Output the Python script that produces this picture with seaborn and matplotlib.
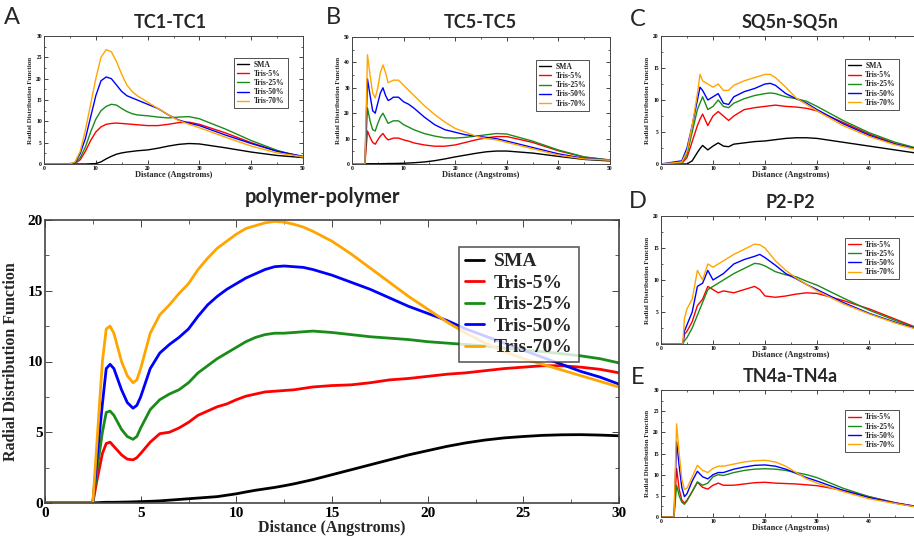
import numpy as np
import pandas as pd
import matplotlib
matplotlib.use('Agg')
import matplotlib.pyplot as plt
from matplotlib.ticker import MultipleLocator
import seaborn as sns

# ---- series names / colours
labels5 = ['SMA', 'Tris-5%', 'Tris-25%', 'Tris-50%', 'Tris-70%']
colors5 = ['black', '#ff0000', '#1a8c1a', '#0000ff', '#ffa500']

# ---- main panel: polymer-polymer
x_main = [0, 2.5, 2.7, 3.0, 3.2, 3.4, 3.6, 4.0, 4.3, 4.6, 4.8, 5.0, 5.5, 6.0, 6.5, 7.0, 7.5, 8.0, 8.5,
          9.0, 9.5, 10.0, 10.5, 11.0, 11.5, 12.0, 12.5, 13.0, 13.5, 14.0, 15, 16, 17, 18, 19, 20,
          21, 22, 23, 24, 25, 26, 27, 28, 29, 30]
sma_main = [0, 0, 0.02, 0.04, 0.05, 0.05, 0.05, 0.06, 0.07, 0.08, 0.09, 0.1, 0.12, 0.15, 0.2, 0.25, 0.3, 0.35, 0.4,
            0.45, 0.55, 0.65, 0.78, 0.9, 1.0, 1.1, 1.22, 1.35, 1.5, 1.65, 2.0, 2.35, 2.7, 3.05, 3.4, 3.7,
            4.0, 4.25, 4.45, 4.6, 4.7, 4.78, 4.82, 4.83, 4.8, 4.75]
t5_main = [0, 0, 1.5, 3.5, 4.2, 4.3, 4.0, 3.4, 3.1, 3.05, 3.2, 3.5, 4.3, 4.9, 5.0, 5.3, 5.7, 6.2, 6.5,
           6.8, 7.0, 7.3, 7.55, 7.7, 7.85, 7.9, 7.95, 8.0, 8.1, 8.2, 8.3, 8.35, 8.5, 8.7, 8.8, 8.95,
           9.1, 9.2, 9.35, 9.5, 9.6, 9.7, 9.7, 9.6, 9.45, 9.2]
t25_main = [0, 0, 2.2, 5.0, 6.4, 6.5, 6.2, 5.2, 4.7, 4.5, 4.7, 5.3, 6.6, 7.3, 7.7, 8.0, 8.5, 9.2, 9.7,
            10.2, 10.6, 11.0, 11.4, 11.7, 11.9, 12.0, 12.0, 12.05, 12.1, 12.15, 12.05, 11.9, 11.75, 11.65, 11.55, 11.4,
            11.3, 11.2, 11.1, 10.95, 10.8, 10.7, 10.55, 10.4, 10.2, 9.9]
t50_main = [0, 0, 3.0, 7.0, 9.5, 9.8, 9.5, 8.0, 7.1, 6.7, 6.9, 7.5, 9.5, 10.6, 11.2, 11.7, 12.3, 13.2, 14.0,
            14.6, 15.1, 15.5, 15.9, 16.2, 16.5, 16.7, 16.75, 16.7, 16.65, 16.5, 16.1, 15.6, 15.1, 14.5, 13.9, 13.4,
            12.9, 12.3, 11.8, 11.3, 10.8, 10.3, 9.8, 9.3, 8.9, 8.4]
t70_main = [0, 0, 4.0, 10.0, 12.3, 12.5, 12.0, 10.0, 9.0, 8.5, 8.7, 9.5, 12.0, 13.3, 14.0, 14.8, 15.5, 16.5, 17.3,
            18.0, 18.5, 19.0, 19.4, 19.6, 19.8, 19.9, 19.85, 19.7, 19.5, 19.2, 18.5, 17.6, 16.6, 15.6, 14.6, 13.7,
            12.8, 12.0, 11.3, 10.7, 10.2, 9.8, 9.4, 9.0, 8.6, 8.2]

# ---- panel A: TC1-TC1
x_A = [0, 5, 6, 7, 8, 9, 10, 11, 12, 13, 14, 15, 16, 17, 18, 20, 22, 24, 26, 28, 30, 35, 40, 45, 50]
sma_A = [0, 0, 0, 0, 0, 0.05, 0.1, 0.5, 1.2, 1.8, 2.3, 2.6, 2.8, 2.95, 3.1, 3.3, 3.7, 4.2, 4.6, 4.8, 4.7, 3.8, 2.8, 2.0, 1.5]
t5_A = [0, 0, 0.1, 1.0, 3.0, 5.5, 7.5, 8.7, 9.3, 9.5, 9.6, 9.5, 9.4, 9.3, 9.2, 9.0, 9.0, 9.3, 9.7, 9.8, 9.3, 7.3, 5.0, 3.0, 1.7]
t25_A = [0, 0, 0.2, 1.5, 4.0, 7.5, 10.5, 12.5, 13.5, 14.0, 13.8, 13.0, 12.3, 11.8, 11.5, 11.3, 11.0, 10.8, 11.0, 11.1, 10.6, 8.2, 5.5, 3.2, 1.5]
t50_A = [0, 0, 0.3, 2.5, 6.0, 11.0, 16.0, 19.5, 20.4, 20.0, 18.5, 17.0, 16.0, 15.5, 15.0, 14.0, 13.0, 11.5, 10.3, 9.6, 9.0, 6.8, 4.8, 3.0, 1.8]
t70_A = [0, 0, 0.5, 3.0, 8.0, 14.0, 20.0, 25.0, 26.8, 26.3, 24.0, 21.0, 18.5, 17.0, 16.0, 14.5, 13.0, 11.5, 10.2, 9.3, 8.5, 6.3, 4.2, 2.6, 1.7]

# ---- panel B: TC5-TC5
x_B = [0, 2.5, 3, 3.5, 4, 4.5, 5, 5.5, 6, 6.5, 7, 7.5, 8, 9, 10, 11, 12, 14, 16, 18, 20, 22, 24, 26, 28, 30, 35, 40, 45, 50]
sma_B = [0, 0, 0.1, 0.1, 0.1, 0.1, 0.1, 0.1, 0.15, 0.15, 0.2, 0.2, 0.2, 0.25, 0.3, 0.4, 0.5, 0.8, 1.3, 2.0, 2.8, 3.5, 4.2, 4.8, 5.1, 5.1, 4.3, 3.0, 1.8, 1.2]
t5_B = [0, 0, 13.0, 10.5, 8.5, 7.8, 9.5, 11.0, 12.0, 10.5, 9.5, 9.8, 10.2, 10.2, 9.5, 9.0, 8.3, 7.5, 7.0, 7.0, 7.5, 8.5, 9.5, 10.3, 10.8, 10.8, 8.5, 5.2, 2.7, 1.6]
t25_B = [0, 0, 22.0, 17.0, 13.5, 13.0, 16.0, 18.5, 20.0, 18.0, 16.0, 16.5, 17.0, 17.0, 15.5, 14.5, 13.5, 12.0, 11.0, 10.3, 10.2, 10.5, 11.0, 11.5, 12.0, 11.8, 9.0, 5.5, 2.8, 1.5]
t50_B = [0, 0, 33.5, 27.0, 21.0, 20.0, 24.0, 28.0, 30.0, 27.0, 25.0, 25.5, 26.3, 26.3, 24.5, 23.5, 22.0, 18.5, 15.5, 13.5, 12.5, 11.5, 11.0, 10.5, 10.0, 9.0, 6.5, 4.0, 2.2, 1.5]
t70_B = [0, 0, 43.0, 35.0, 28.0, 26.0, 30.0, 36.0, 39.0, 36.0, 32.0, 32.5, 33.0, 33.0, 31.0, 29.0, 27.0, 23.0, 19.5, 16.5, 14.0, 12.5, 11.0, 10.0, 9.5, 8.5, 6.0, 3.5, 2.0, 1.5]

# ---- panel C: SQ5n-SQ5n
x_C = [0, 4, 5, 6, 7, 7.5, 8, 9, 10, 11, 12, 13, 14, 16, 18, 20, 21, 22, 24, 26, 28, 30, 35, 40, 45, 50]
sma_C = [0, 0, 0, 0.5, 1.8, 2.4, 2.9, 2.2, 2.8, 3.3, 2.8, 2.7, 3.1, 3.3, 3.5, 3.6, 3.7, 3.8, 4.0, 4.1, 4.1, 4.0, 3.4, 2.8, 2.2, 1.6]
t5_C = [0, 0.1, 1.0, 3.5, 6.0, 7.0, 7.8, 6.0, 7.5, 8.2, 7.5, 6.8, 7.5, 8.5, 8.8, 9.0, 9.1, 9.2, 9.0, 8.9, 8.7, 8.3, 6.5, 4.7, 3.2, 2.2]
t25_C = [0, 0.2, 1.5, 5.0, 8.5, 9.5, 10.5, 8.5, 9.0, 10.0, 9.0, 8.8, 9.5, 10.2, 10.7, 11.0, 11.1, 11.0, 10.5, 10.2, 9.8, 9.0, 6.8, 4.9, 3.4, 2.3]
t50_C = [0, 0.5, 2.5, 6.0, 10.0, 12.0, 11.5, 10.0, 10.5, 11.0, 9.5, 9.3, 10.5, 11.3, 11.8, 12.5, 12.6, 12.3, 11.0, 10.2, 9.5, 8.5, 6.3, 4.5, 3.1, 2.2]
t70_C = [0, 0.3, 2.0, 6.0, 11.0, 14.0, 13.0, 12.5, 12.0, 12.5, 11.5, 11.5, 12.3, 13.0, 13.5, 14.0, 14.0, 13.5, 12.0, 10.3, 9.3, 8.3, 6.0, 4.3, 3.0, 2.1]

# ---- panel D: P2-P2 (no SMA)
x_D = [0, 4.2, 4.5, 5, 6, 7, 8, 9, 10, 11, 12, 14, 16, 18, 19, 20, 22, 24, 26, 28, 30, 35, 40, 45, 50]
t5_D = [0, 0, 1.5, 2.0, 3.5, 6.0, 7.0, 9.0, 8.5, 8.0, 8.3, 8.0, 8.5, 9.0, 8.5, 7.5, 7.3, 7.5, 7.8, 8.0, 7.9, 6.8, 5.5, 3.9, 2.3]
t25_D = [0, 0, 0.5, 1.0, 2.5, 4.5, 6.5, 8.5, 9.0, 9.5, 10.0, 11.0, 11.8, 12.6, 12.5, 12.2, 11.3, 10.8, 10.5, 9.8, 9.2, 7.2, 5.3, 3.7, 2.2]
t50_D = [0, 0, 2.0, 3.0, 5.0, 9.0, 9.5, 11.5, 10.0, 10.5, 11.0, 12.5, 13.2, 13.7, 14.0, 13.5, 12.3, 11.0, 10.2, 9.3, 8.5, 6.5, 4.8, 3.4, 2.2]
t70_D = [0, 0, 4.0, 5.5, 7.0, 11.5, 10.0, 12.5, 12.0, 12.5, 13.0, 14.0, 14.8, 15.6, 15.5, 15.0, 13.0, 11.5, 10.3, 9.3, 8.3, 6.3, 4.7, 3.3, 2.1]

# ---- panel E: TN4a-TN4a (no SMA)
x_E = [0, 2.5, 3, 3.5, 4, 4.5, 5, 6, 7, 8, 9, 10, 11, 12, 14, 16, 18, 20, 22, 24, 26, 28, 30, 35, 40, 45, 50]
t5_E = [0, 0, 11.5, 6.5, 4.0, 3.3, 4.0, 6.0, 8.2, 7.0, 6.6, 7.5, 8.0, 7.5, 7.5, 7.8, 8.1, 8.2, 8.0, 7.9, 7.8, 7.6, 7.4, 6.3, 4.8, 3.4, 2.3]
t25_E = [0, 0, 7.5, 5.0, 3.5, 3.0, 3.8, 6.0, 8.3, 7.5, 8.0, 9.5, 10.0, 9.8, 10.5, 11.0, 11.3, 11.4, 11.3, 11.0, 10.5, 10.0, 9.3, 6.8, 4.8, 3.3, 2.2]
t50_E = [0, 0, 17.8, 12.0, 7.0, 4.8, 5.5, 8.5, 10.8, 9.5, 9.0, 10.0, 10.5, 10.5, 11.3, 11.8, 12.2, 12.3, 12.0, 11.3, 10.3, 9.3, 8.5, 6.3, 4.6, 3.3, 2.3]
t70_E = [0, 0, 22.0, 15.0, 9.0, 6.5, 6.8, 9.5, 12.2, 11.0, 10.5, 11.5, 12.0, 12.0, 12.5, 13.0, 13.3, 13.4, 13.0, 12.0, 10.5, 9.0, 8.0, 6.0, 4.3, 3.2, 2.2]

sns.set_style('ticks')
plt.rcParams['font.family'] = ['Liberation Serif', 'DejaVu Serif']
plt.rcParams['axes.edgecolor'] = '#444444'
plt.rcParams['xtick.color'] = '#444444'
plt.rcParams['ytick.color'] = '#444444'
plt.rcParams['xtick.labelcolor'] = 'black'
plt.rcParams['ytick.labelcolor'] = 'black'

W, H = 914, 538
fig = plt.figure(figsize=(W / 100, H / 100), dpi=100)


def box(l, t, w, h):
    return [l / W, 1 - (t + h) / H, w / W, h / H]


def style_axes(ax, xmaj, ymaj, tsize, lw):
    ax.tick_params(direction='in', which='both', top=True, right=True, labelsize=tsize, pad=1.5)
    ax.tick_params(which='major', length=3 if tsize < 8 else 5, width=0.7)
    ax.tick_params(which='minor', length=1.5 if tsize < 8 else 3, width=0.6)
    ax.xaxis.set_major_locator(MultipleLocator(xmaj))
    ax.xaxis.set_minor_locator(MultipleLocator(xmaj / 2))
    ax.yaxis.set_major_locator(MultipleLocator(ymaj))
    ax.yaxis.set_minor_locator(MultipleLocator(ymaj / 2))
    for lab in ax.get_xticklabels() + ax.get_yticklabels():
        lab.set_fontweight('bold')
    for s in ax.spines.values():
        s.set_linewidth(lw)


def small_panel(rect, x, ys, labs, cols, ymax, ymaj, leg_anchor, clipped=False):
    ax = fig.add_axes(rect)
    for y, lab, c in zip(ys, labs, cols):
        sns.lineplot(x=x, y=y, color=c, label=lab, linewidth=1.0, ax=ax)
    ax.set_xlim(0, 50)
    ax.set_ylim(0, ymax)
    style_axes(ax, 10, ymaj, 4, 0.7)
    if clipped:
        # the right edge of these panels runs off the figure
        ax.set_xticks([0, 10, 20, 30, 40, 50], ['0', '10', '20', '30', '40', ''], fontweight='bold')
    ax.set_xlabel('Distance (Angstroms)', fontsize=6, fontweight='bold', labelpad=0)
    ax.set_ylabel('Radial Distribution Function', fontsize=5, fontweight='bold', labelpad=2)
    leg = ax.legend(loc='upper right', bbox_to_anchor=leg_anchor, frameon=True,
                    fancybox=False, edgecolor='black', handlelength=1.6, borderpad=0.4,
                    labelspacing=0.15, handletextpad=0.6, prop={'weight': 'bold', 'size': 5.5})
    leg.get_frame().set_linewidth(0.6)
    return ax


small_panel(box(44, 36, 259, 128), x_A, [sma_A, t5_A, t25_A, t50_A, t70_A], labels5, colors5, 30, 5, (0.955, 0.86))
small_panel(box(352, 37, 258, 127), x_B, [sma_B, t5_B, t25_B, t50_B, t70_B], labels5, colors5, 50, 10, (0.935, 0.85))
small_panel(box(661, 36, 260, 128), x_C, [sma_C, t5_C, t25_C, t50_C, t70_C], labels5, colors5, 20, 5, (0.93, 0.85), True)
small_panel(box(661, 216, 260, 128), x_D, [t5_D, t25_D, t50_D, t70_D], labels5[1:], colors5[1:], 20, 5, (0.93, 0.86), True)
small_panel(box(661, 390, 260, 127), x_E, [t5_E, t25_E, t50_E, t70_E], labels5[1:], colors5[1:], 30, 5, (0.93, 0.87), True)

# main panel
ax = fig.add_axes(box(45, 220, 574, 283))
for y, lab, c in zip([sma_main, t5_main, t25_main, t50_main, t70_main], labels5, colors5):
    sns.lineplot(x=x_main, y=y, color=c, label=lab, linewidth=2.0, ax=ax)
ax.set_xlim(0, 30)
ax.set_ylim(0, 20)
style_axes(ax, 5, 5, 11, 1.2)
ax.tick_params(axis='x', pad=3)
ax.set_xlabel('Distance (Angstroms)', fontsize=11.5, fontweight='bold', labelpad=0)
ax.set_ylabel('Radial Distribution Function', fontsize=11.5, fontweight='bold', labelpad=6)
leg = ax.legend(loc='upper right', bbox_to_anchor=(0.93, 0.905), borderaxespad=0, frameon=True,
                fancybox=False, edgecolor='#333333', handlelength=1.0, borderpad=0.3, labelspacing=0.2,
                handletextpad=0.5, prop={'weight': 'bold', 'size': 14})
leg.get_frame().set_linewidth(1.2)

# titles and panel letters
tfont = ['Lato', 'DejaVu Sans']
for txt, xc, yc, fs in [('TC1-TC1', 170, 22, 13), ('TC5-TC5', 480, 22, 13), ('SQ5n-SQ5n', 790, 22, 13),
                        ('P2-P2', 790, 203, 13), ('TN4a-TN4a', 790, 377, 13), ('polymer-polymer', 322, 197, 14.5)]:
    fig.text(xc / W, 1 - yc / H, txt, ha='center', va='center', fontsize=fs, fontweight='bold', family=tfont)
for txt, xc, yc in [('A', 12, 18), ('B', 333, 18), ('C', 638, 20), ('D', 638, 202), ('E', 638, 377)]:
    fig.text(xc / W, 1 - yc / H, txt, ha='center', va='center', fontsize=17, family=tfont)

fig.savefig('out.png', dpi=100)
